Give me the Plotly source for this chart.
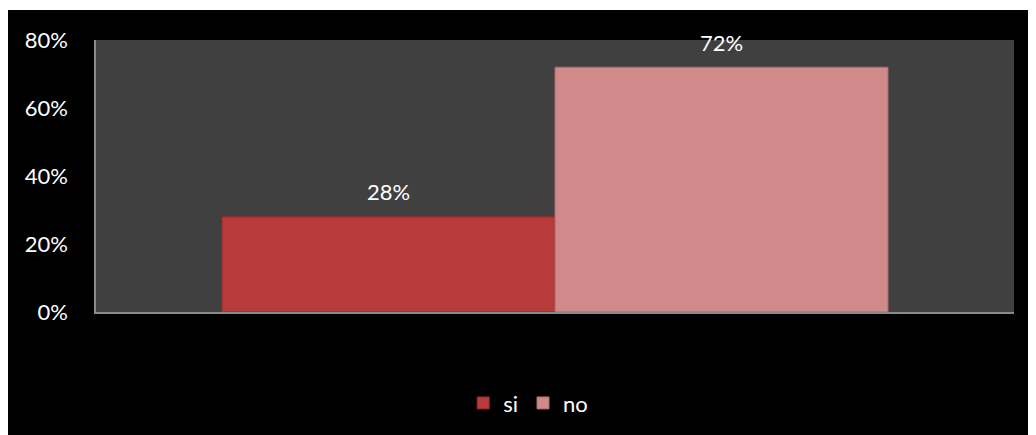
import plotly.graph_objects as go

categories = ["Serie 1"]
series_names = ["si", "no"]
si_values = [0.28]
no_values = [0.72]
tick_values = [0, 0.2, 0.4, 0.6, 0.8]
tick_labels = ["0%", "20%", "40%", "60%", "80%"]

colors = {"si": "#B93A3A", "no": "#D08A8A"}
line_colors = {"si": "#8E2A2A", "no": "#A86C6C"}
FONT = "Lato, 'Open Sans', sans-serif"

fig = go.Figure()
for name, vals in zip(series_names, [si_values, no_values]):
    fig.add_trace(go.Bar(
        x=categories, y=vals, name=name,
        marker=dict(color=colors[name], line=dict(color=line_colors[name], width=1)),
        text=[f"{round(v*100)}%" for v in vals],
        textposition="none",
    ))

# data labels above each bar (bar width = (1-bargap)/n of the category slot)
n = len(series_names)
bargap = 0.2745
plot_w = 918
for i, (name, vals) in enumerate(zip(series_names, [si_values, no_values])):
    for c, v in zip(categories, vals):
        fig.add_annotation(
            x=c, y=v, text=f"{round(v*100)}%", showarrow=False,
            xref="x", yref="y", yanchor="middle", yshift=25,
            xshift=(i - (n - 1) / 2) * plot_w * (1 - bargap) / n,
            font=dict(family=FONT, size=22, color="white"),
        )

fig.update_layout(
    width=1040, height=430,
    margin=dict(l=88, r=34, t=32, b=126),
    paper_bgcolor="black",
    plot_bgcolor="#404040",
    barmode="group",
    bargap=bargap,
    bargroupgap=0,
    showlegend=True,
    legend=dict(
        orientation="h", x=0.40, xanchor="left", y=-0.335, yanchor="middle",
        font=dict(family=FONT, size=22, color="white"),
        bgcolor="rgba(0,0,0,0)",
    ),
    xaxis=dict(
        type="category", range=[-0.5, 0.5],
        showticklabels=False, showgrid=False, zeroline=False,
        showline=True, linecolor="#8a8a8a", linewidth=1.5, ticks="",
    ),
    yaxis=dict(
        range=[0, 0.8], tickvals=tick_values, ticktext=tick_labels,
        showgrid=False, zeroline=False, showline=True,
        linecolor="#8a8a8a", linewidth=1.5, ticks="",
        ticklabelstandoff=22,
        tickfont=dict(family=FONT, size=22, color="white"),
    ),
    shapes=[dict(type="rect", xref="paper", yref="paper",
                 x0=-0.2, x1=1.2, y0=1 + 30 / 272, y1=1 + 33 / 272,
                 fillcolor="white", line=dict(width=0), layer="above")],
)

fig.write_html("out.html")
